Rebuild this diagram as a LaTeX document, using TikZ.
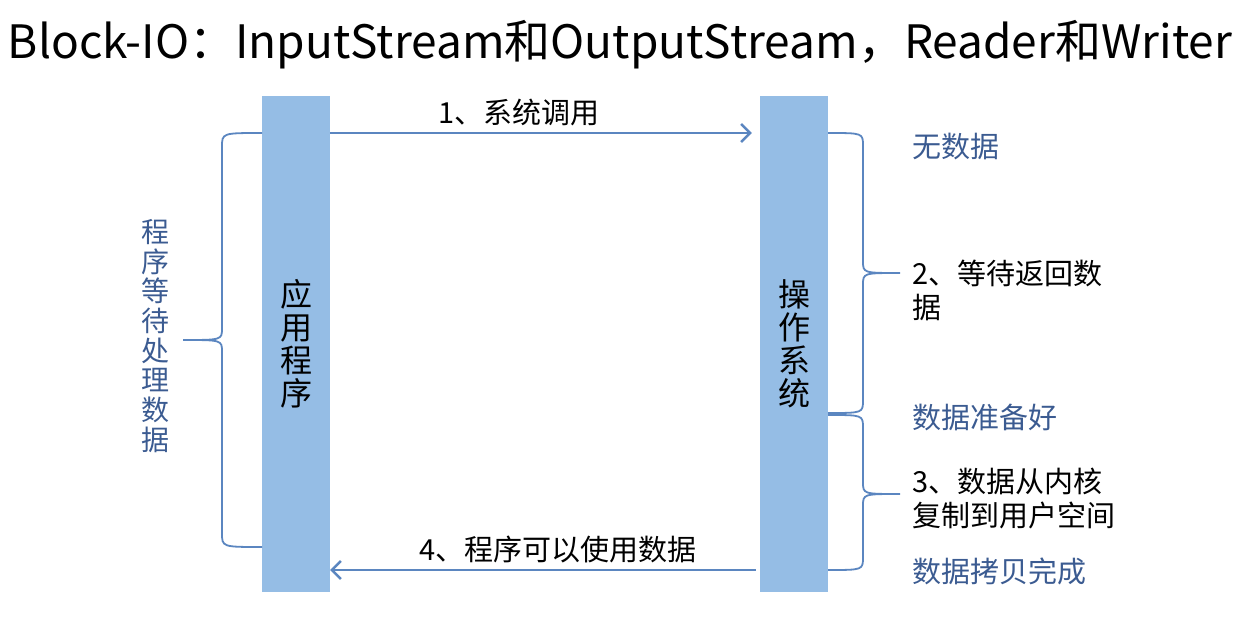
\documentclass[tikz,border=0pt]{standalone}
\usepackage{fontspec}
\setmainfont{Noto Sans CJK SC}
\usetikzlibrary{arrows.meta}
\definecolor{barblue}{HTML}{95BDE5}
\definecolor{lineblue}{HTML}{5B86C0}
\definecolor{txtblue}{HTML}{3B5B91}
\begin{document}
\begin{tikzpicture}[x=1pt,y=-1pt,>={Straight Barb[length=9pt,width=18pt]},
  bar/.style={rectangle,fill=barblue,minimum width=68pt,minimum height=496pt,inner sep=0pt,align=center,font=\fontsize{32}{33}\selectfont},
  flow/.style={->,draw=lineblue,line width=2.5pt},
  brace/.style={draw=lineblue,line width=1.8pt},
  note/.style={anchor=west,align=left,inner sep=0pt,font=\fontsize{29}{34}\selectfont}]
\useasboundingbox (0,0) rectangle (1242,623);
\node (title) at (620,45)[font=\fontsize{46}{52}\selectfont]{Block-IO：InputStream和OutputStream，Reader和Writer};
\node (app) at (296,344)[bar]{应\\用\\程\\序};
\node (os) at (794,344)[bar]{操\\作\\系\\统};
\node (wait) at (155,336)[align=center,text=txtblue,font=\fontsize{28}{29.7}\selectfont]{程\\序\\等\\待\\处\\理\\数\\据};

\node (nodata) at (912,147)[note,text=txtblue]{无数据};
\node (step2) at (912,290)[note]{2、等待返回数\\据};
\node (ready) at (912,417)[note,text=txtblue]{数据准备好};
\node (step3) at (912,499)[note]{3、数据从内核\\复制到用户空间};
\node (done) at (912,571)[note,text=txtblue]{数据拷贝完成};

\draw[flow,shorten >=8pt] (app.east |- 0,133)--node[pos=.44,above=2pt,font=\fontsize{29}{32}\selectfont]{1、系统调用}(os.west |- 0,133);
\draw[flow,shorten <=4pt] (os.west |- 0,570)--node[pos=.47,above=2pt,font=\fontsize{29}{32}\selectfont]{4、程序可以使用数据}(app.east |- 0,570);

% braces
\draw[brace] (262,133) .. controls (222,133) .. (222,147) -- (222,328) .. controls (222,340) .. (183,340)
  .. controls (222,340) .. (222,352) -- (222,533) .. controls (222,547) .. (262,547);
\draw[brace] (828,133) .. controls (863,133) .. (863,146) -- (863,261) .. controls (863,273) .. (900,273)
  .. controls (863,273) .. (863,285) -- (863,400) .. controls (863,413) .. (828,413);
\draw[brace] (828,415) .. controls (863,415) .. (863,428) -- (863,482) .. controls (863,494) .. (900,494)
  .. controls (863,494) .. (863,506) -- (863,557) .. controls (863,570) .. (828,570);
\end{tikzpicture}
\end{document}
